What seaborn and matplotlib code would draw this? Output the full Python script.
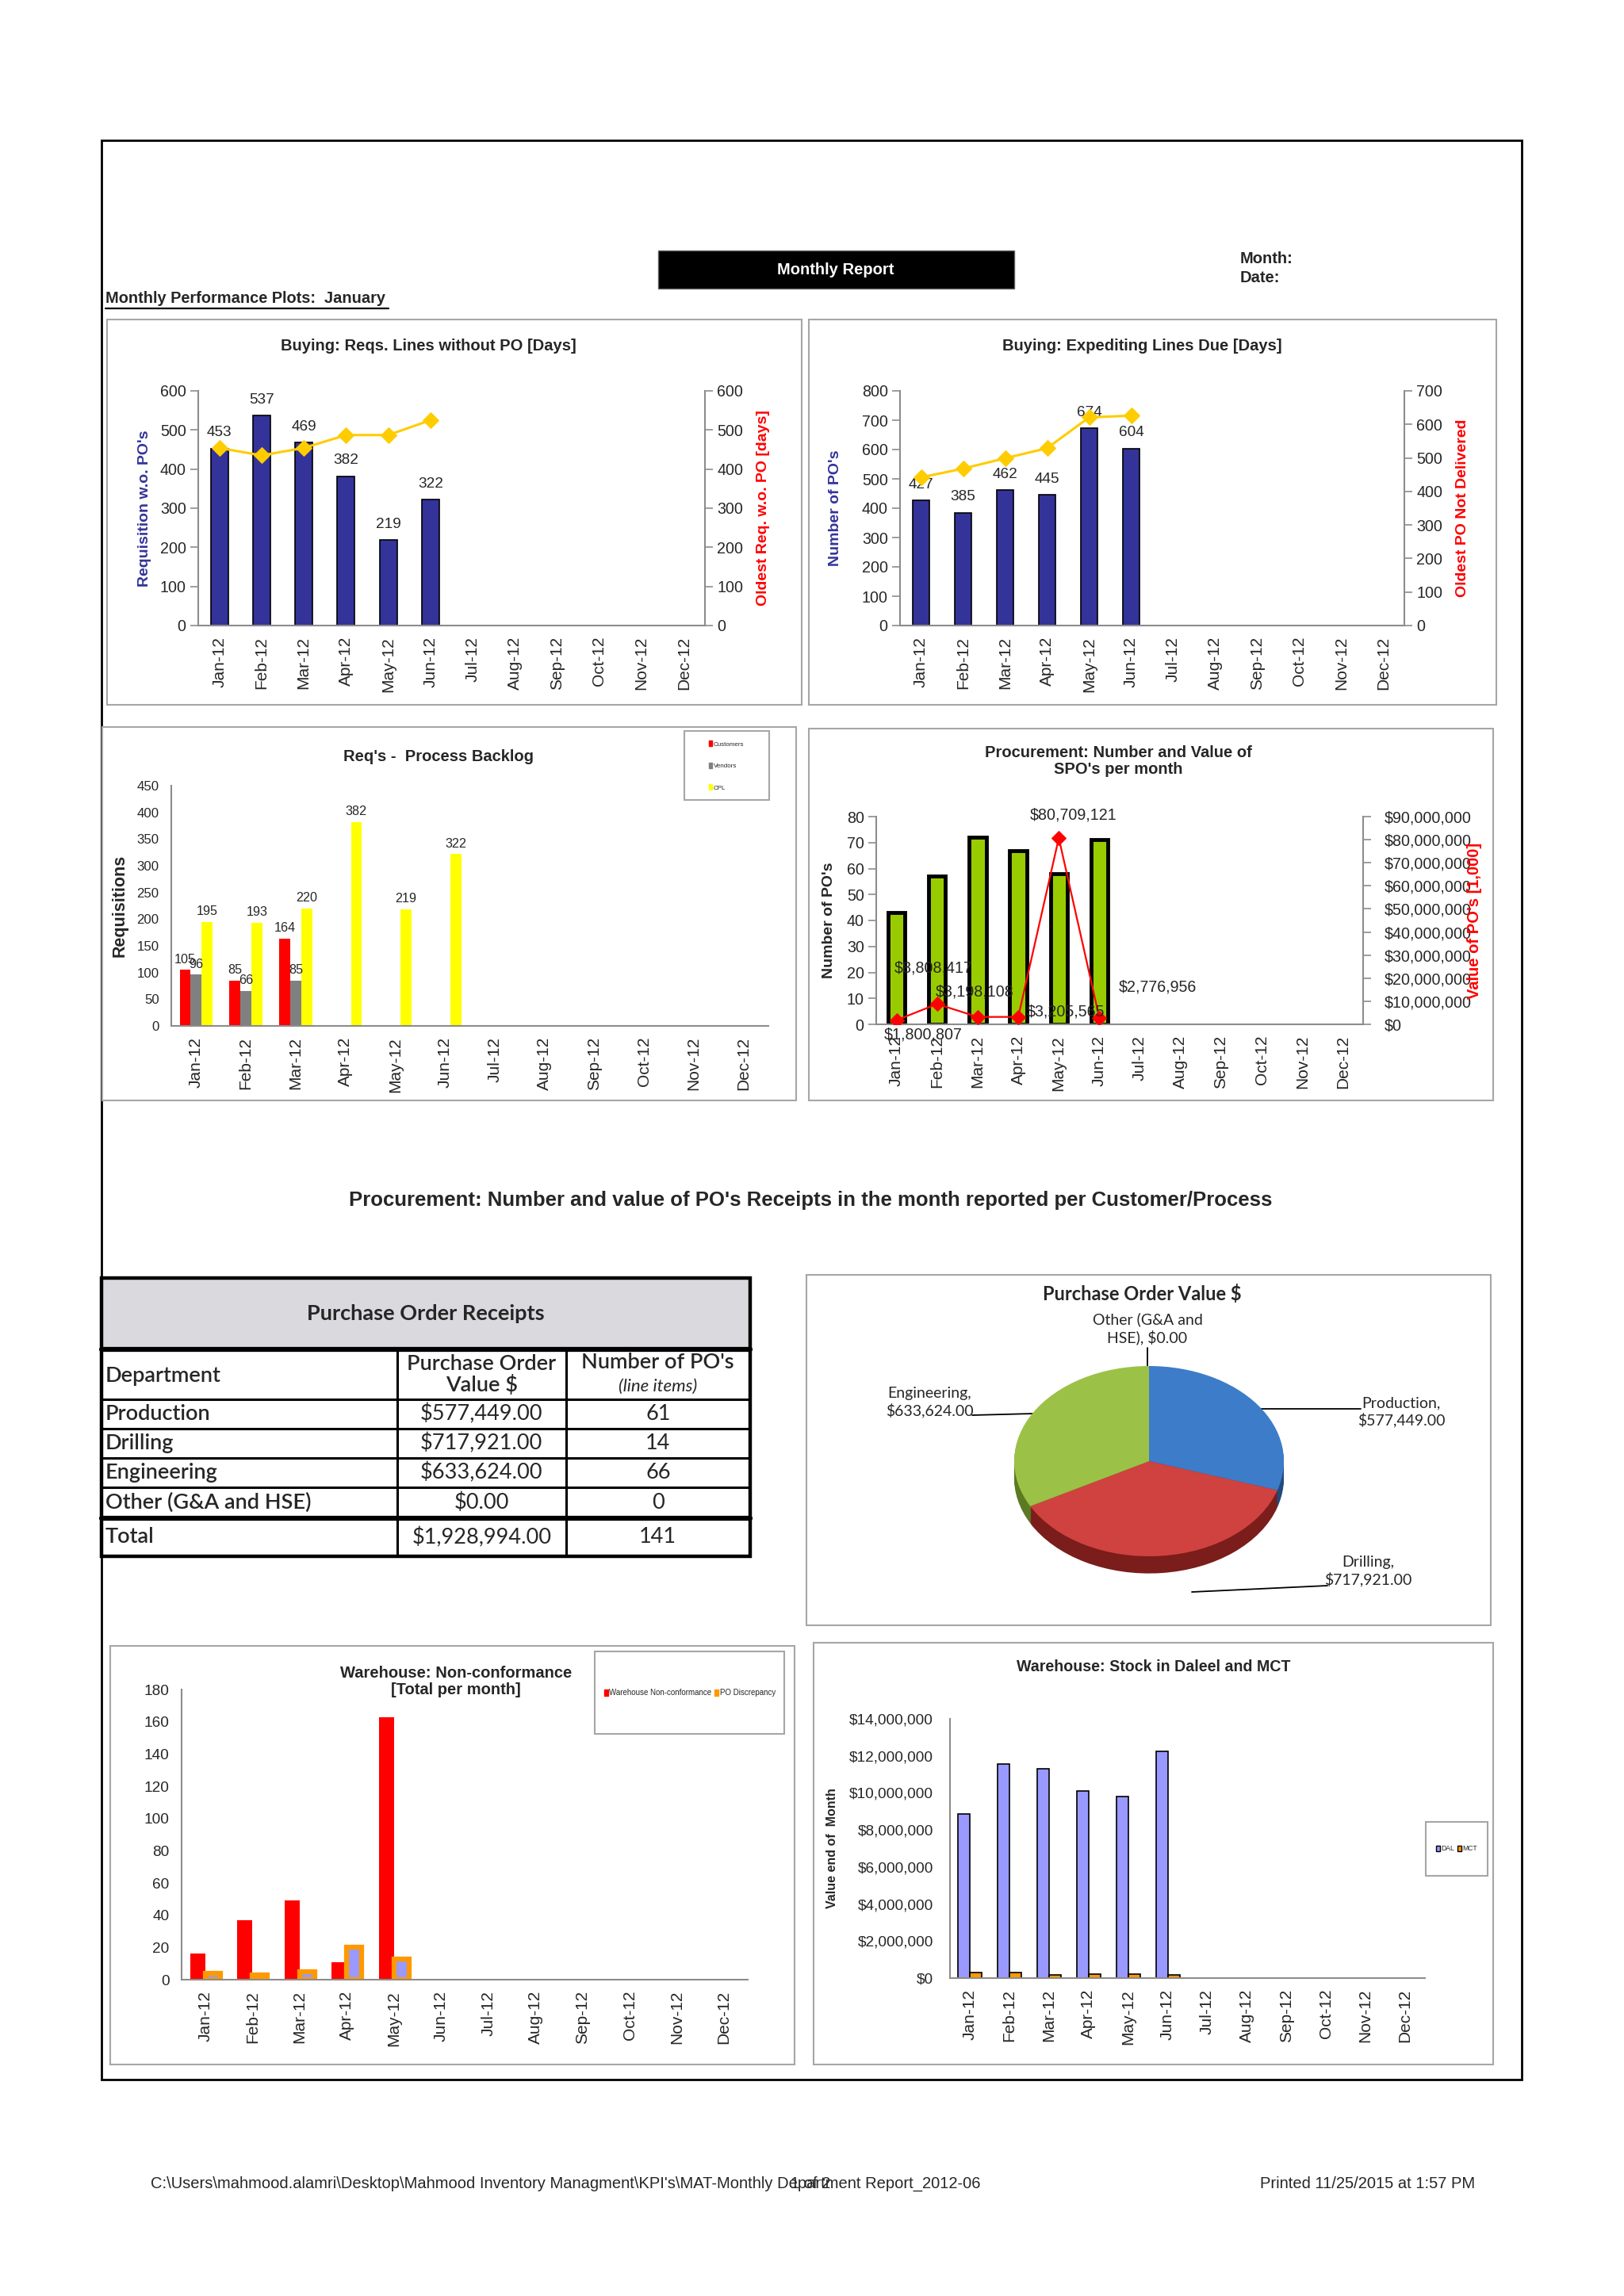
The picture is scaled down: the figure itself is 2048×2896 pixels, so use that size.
import numpy as np
import pandas as pd
import matplotlib
matplotlib.use("Agg")
import matplotlib.pyplot as plt
import matplotlib.ticker as mticker
from matplotlib import font_manager
from matplotlib.patches import Rectangle, Patch
import seaborn as sns

months = ['Jan-12', 'Feb-12', 'Mar-12', 'Apr-12', 'May-12', 'Jun-12',
          'Jul-12', 'Aug-12', 'Sep-12', 'Oct-12', 'Nov-12', 'Dec-12']

# Buying: Reqs. Lines without PO
reqs_without_po = [453, 537, 469, 382, 219, 322]
oldest_req_days = [454, 435, 454, 487, 487, 525]

# Buying: Expediting Lines Due
expediting_pos = [427, 385, 462, 445, 674, 604]
oldest_po_days = [442, 468, 499, 529, 621, 626]

# Req's - Process Backlog
backlog_customers = [105, 85, 164]
backlog_vendors = [96, 66, 85]
backlog_cpl = [195, 193, 220, 382, 219, 322]

# Procurement: SPO's per month
spo_count = [43, 57, 72, 67, 58, 71]
spo_value = [1800807, 8808417, 3198108, 3205565, 80709121, 2776956]

# Purchase Order Receipts
departments = ['Production', 'Drilling', 'Engineering', 'Other (G&A and HSE)']
po_value = [577449.00, 717921.00, 633624.00, 0.00]
po_lines = [61, 14, 66, 0]

# Warehouse: Non-conformance
wh_nonconformance = [16, 37, 49, 11, 163]
po_discrepancy = [4, 3, 5, 20, 13]

# Warehouse: Stock in Daleel and MCT
stock_dal = [8860000, 11550000, 11310000, 10120000, 9810000, 12260000]
stock_mct = [300000, 280000, 170000, 220000, 220000, 170000]

# --- Style ---
sns.set_theme(style="white")
plt.rcParams['font.family'] = ['Liberation Sans', 'DejaVu Sans']
available = {f.name for f in font_manager.fontManager.ttflist}
NARROW = 'Liberation Sans Narrow' if 'Liberation Sans Narrow' in available else 'Liberation Sans'
SQUEEZE = 1.0 if NARROW == 'Liberation Sans Narrow' else 0.83
CALIBRI = 'Lato' if 'Lato' in available else 'Liberation Sans'

NAVY = '#333399'
GOLD = '#FFCC00'
AXGRAY = '#8C8C8C'
FRAME = '#A6A6A6'

W, H = 2048, 2896


def narrow(size, **kw):
    return dict(family=NARROW, size=size * SQUEEZE, **kw)


def px(x0, y0, x1, y1):
    # rectangle en pixels (origine en haut à gauche) -> fraction de figure
    return [x0 / W, 1 - y1 / H, (x1 - x0) / W, (y1 - y0) / H]


def month_axis(ax):
    ax.set_xlim(-0.5, 11.5)
    ax.set_xticks(range(12))
    ax.set_xticklabels(months, rotation=90, fontsize=15)
    ax.set_xticks(np.arange(-0.5, 12), minor=True)
    ax.tick_params(axis='x', which='major', length=0, pad=10)
    ax.tick_params(axis='x', which='minor', length=9, width=1.2, color=AXGRAY, direction='out')
    ax.set_xlabel('')
    ax.spines['bottom'].set_color(AXGRAY)
    ax.spines['bottom'].set_linewidth(1.5)


def value_axis(ax, ticks, size, side='left', fmt=None, pad=4):
    ax.set_ylim(ticks[0], ticks[-1])
    ax.set_yticks(ticks)
    if fmt:
        ax.yaxis.set_major_formatter(mticker.StrMethodFormatter(fmt))
    ax.tick_params(axis='y', length=7, width=1.2, color=AXGRAY, direction='out',
                   labelsize=size * SQUEEZE, labelfontfamily=NARROW, pad=pad)
    for s in ['top', 'left', 'right', 'bottom']:
        if s == side:
            ax.spines[s].set_visible(True)
            ax.spines[s].set_color(AXGRAY)
            ax.spines[s].set_linewidth(1.5)
        elif s != 'bottom' or side == 'right':
            ax.spines[s].set_visible(False)


fig = plt.figure(figsize=(W / 100, H / 100), dpi=100)
page = fig.add_axes([0, 0, 1, 1], zorder=0)
page.set_xlim(0, W)
page.set_ylim(H, 0)
page.axis('off')


def frame(x0, y0, x1, y1, color=FRAME, lw=1.5):
    page.add_patch(Rectangle((x0, y0), x1 - x0, y1 - y0, fill=False, edgecolor=color, lw=lw))


# --- En-tête ---
frame(127.5, 177, 1918.6, 2623, color='black', lw=2)
page.add_patch(Rectangle((830, 316), 449, 48, facecolor='black', edgecolor='#606060', lw=1))
page.text(1054, 340, 'Monthly Report', color='white', ha='center', va='center', **narrow(17.5, weight='bold'))
page.text(1564, 327, 'Month:', ha='left', va='center', **narrow(17.5, weight='bold'))
page.text(1564, 351, 'Date:', ha='left', va='center', **narrow(17.5, weight='bold'))
page.text(133, 377, 'Monthly Performance Plots:  January', ha='left', va='center', **narrow(17.4, weight='bold'))
page.plot([133, 490], [389, 389], color='black', lw=1.6)

# --- 1. Buying: Reqs. Lines without PO ---
frame(135, 403, 1011, 889)
page.text(540, 436, 'Buying: Reqs. Lines without PO [Days]', ha='center', va='center', **narrow(17.5, weight='bold'))
ax = fig.add_axes(px(250, 493, 889, 789), facecolor='none', zorder=2)
sns.barplot(x=months[:6], y=reqs_without_po, order=months, color=NAVY, saturation=1, width=0.41,
            edgecolor='black', linewidth=1.2, errorbar=None, ax=ax)
ax.bar_label(ax.containers[0], fmt='%d', padding=8, **narrow(16.5))
value_axis(ax, list(range(0, 601, 100)), 17)
ax.set_ylabel("Requisition w.o. PO's", color=NAVY, fontsize=14, fontweight='bold', labelpad=8)
axb = ax.twinx()
axb.set_zorder(3)
sns.lineplot(x=np.arange(6), y=oldest_req_days, color=GOLD, marker='D', markersize=10,
             markeredgecolor=GOLD, linewidth=2.2, ax=axb)
value_axis(axb, list(range(0, 601, 100)), 17, side='right')
axb.set_ylabel('Oldest Req. w.o. PO [days]', color='red', fontsize=14, fontweight='bold', labelpad=12)
month_axis(ax)

# --- 2. Buying: Expediting Lines Due ---
frame(1020, 403, 1887, 889)
page.text(1440, 436, 'Buying: Expediting Lines Due [Days]', ha='center', va='center', **narrow(17.5, weight='bold'))
ax = fig.add_axes(px(1135, 493, 1771, 789), facecolor='none', zorder=2)
sns.barplot(x=months[:6], y=expediting_pos, order=months, color=NAVY, saturation=1, width=0.41,
            edgecolor='black', linewidth=1.2, errorbar=None, ax=ax)
ax.bar_label(ax.containers[0], fmt='%d', padding=8, **narrow(16.5))
value_axis(ax, list(range(0, 801, 100)), 17)
ax.set_ylabel("Number of PO's", color=NAVY, fontsize=14, fontweight='bold', labelpad=18)
axb = ax.twinx()
axb.set_zorder(3)
sns.lineplot(x=np.arange(6), y=oldest_po_days, color=GOLD, marker='D', markersize=10,
             markeredgecolor=GOLD, linewidth=2.2, ax=axb)
value_axis(axb, list(range(0, 701, 100)), 17, side='right')
axb.set_ylabel('Oldest PO Not Delivered', color='red', fontsize=14, fontweight='bold', labelpad=12)
month_axis(ax)

# --- 3. Req's - Process Backlog ---
frame(129, 917, 1004, 1388)
page.text(553, 954, "Req's -  Process Backlog", ha='center', va='center', **narrow(17.5, weight='bold'))
backlog = pd.DataFrame({
    'month': months[:3] + months[:3] + months[:6],
    'series': ['Customers'] * 3 + ['Vendors'] * 3 + ['CPL'] * 6,
    'reqs': backlog_customers + backlog_vendors + backlog_cpl,
})
backlog_colors = ['#FF0000', '#808080', '#FFFF00']
ax = fig.add_axes(px(216, 991, 969, 1294), facecolor='none', zorder=2)
sns.barplot(data=backlog, x='month', y='reqs', hue='series', order=months,
            hue_order=['Customers', 'Vendors', 'CPL'], palette=backlog_colors, saturation=1,
            width=0.66, linewidth=0, errorbar=None, legend=False, ax=ax)
for c in ax.containers:
    ax.bar_label(c, fmt='%d', padding=4, **narrow(14))
value_axis(ax, list(range(0, 451, 50)), 14.5)
ax.set_ylabel('Requisitions', fontsize=15.5, fontweight='bold', labelpad=8)
month_axis(ax)
frame(863, 922, 970, 1009)
ax.legend([Patch(color=c) for c in backlog_colors], ['Customers', 'Vendors', 'CPL'],
          loc='center', bbox_to_anchor=(916 / W, 1 - 966 / H), bbox_transform=fig.transFigure,
          frameon=False, prop={'family': NARROW, 'size': 7 * SQUEEZE}, handlelength=0.5,
          handleheight=0.9, handletextpad=0.2, labelspacing=2.4)

# --- 4. Procurement: Number and Value of SPO's ---
frame(1020, 919, 1883, 1388)
page.text(1410, 960, "Procurement: Number and Value of\nSPO's per month", ha='center', va='center',
          linespacing=1.15, **narrow(17.5, weight='bold'))
ax = fig.add_axes(px(1105, 1030, 1719, 1292), facecolor='none', zorder=2)
sns.barplot(x=months[:6], y=spo_count, order=months, color='#99CC00', saturation=1, width=0.42,
            edgecolor='black', linewidth=3.5, errorbar=None, ax=ax)
value_axis(ax, list(range(0, 81, 10)), 17)
ax.set_ylabel("Number of PO's", fontsize=14, fontweight='bold', labelpad=10)
axb = ax.twinx()
axb.set_zorder(3)
sns.lineplot(x=np.arange(6), y=spo_value, color='red', marker='D', markersize=9,
             markeredgecolor='red', linewidth=1.6, ax=axb)
value_axis(axb, list(np.arange(0, 90e6 + 1, 10e6)), 17, side='right', fmt='${x:,.0f}', pad=12)
axb.set_ylabel("Value of PO's [1,000]", color='red', fontsize=14.5, fontweight='bold', labelpad=-4)
label_offsets = [(24, -13), (-3, 33), (-3, 23), (43, 5), (13, 21), (53, 28)]
for i, (v, off) in enumerate(zip(spo_value, label_offsets)):
    axb.annotate(f'${v:,.0f}', (i, v), xytext=off, textcoords='offset points',
                 ha='center', va='center', **narrow(17))
month_axis(ax)

# --- Titre de section ---
page.text(1022, 1514, "Procurement: Number and value of PO's Receipts in the month reported per Customer/Process",
          ha='center', va='center', **narrow(22.3, weight='bold'))

# --- 5. Tableau Purchase Order Receipts ---
tx = [127.5, 501, 713.5, 946]
ty = [1612, 1702, 1765, 1802, 1839, 1876, 1915, 1963]
page.add_patch(Rectangle((tx[0], ty[0]), tx[-1] - tx[0], ty[1] - ty[0], facecolor='#DAD9DE', edgecolor='none'))
for k, y in enumerate(ty[1:-1]):
    page.plot([tx[0], tx[-1]], [y, y], color='black', lw=4.5 if k in (0, 5) else 2.2)
for x in tx[1:-1]:
    page.plot([x, x], [ty[1], ty[-1]], color='black', lw=2.2)
frame(tx[0], ty[0], tx[-1], ty[-1], color='black', lw=3.2)

cell = dict(family=CALIBRI, size=19.5)
page.text((tx[0] + tx[-1]) / 2, (ty[0] + ty[1]) / 2, 'Purchase Order Receipts', ha='center', va='center',
          weight='bold', **cell)
page.text(133, 1736, 'Department', ha='left', va='center', weight='semibold', **cell)
page.text((tx[1] + tx[2]) / 2, 1734, 'Purchase Order\nValue $', ha='center', va='center', weight='semibold',
          linespacing=1.05, **cell)
page.text((tx[2] + tx[3]) / 2, 1719, "Number of PO's", ha='center', va='center', weight='semibold', **cell)
page.text((tx[2] + tx[3]) / 2, 1749, '(line items)', ha='center', va='center', style='italic',
          family=CALIBRI, size=16)
for i, (dept, val, n) in enumerate(zip(departments, po_value, po_lines)):
    yc = (ty[2 + i] + ty[3 + i]) / 2
    page.text(133, yc, dept, ha='left', va='center', weight='semibold', **cell)
    page.text((tx[1] + tx[2]) / 2, yc, f'${val:,.2f}', ha='center', va='center', **cell)
    page.text((tx[2] + tx[3]) / 2, yc, f'{n}', ha='center', va='center', **cell)
yc = (ty[6] + ty[7]) / 2
page.text(133, yc, 'Total', ha='left', va='center', weight='semibold', **cell)
page.text((tx[1] + tx[2]) / 2, yc, f'${sum(po_value):,.2f}', ha='center', va='center', **cell)
page.text((tx[2] + tx[3]) / 2, yc, f'{sum(po_lines)}', ha='center', va='center', **cell)

# --- 6. Camembert Purchase Order Value $ ---
frame(1017, 1608, 1880, 2050)
page.text(1440, 1632, 'Purchase Order Value $', ha='center', va='center', family=CALIBRI, size=17, weight='bold')
pie_ax = fig.add_axes(px(1228, 1687, 1670, 2023), zorder=2)
top_colors = ['#3D7CC9', '#D0423F', '#9BC246', '#8064A2']
side_colors = ['#24497C', '#7A1D1B', '#5C7A24', '#4B3A63']
for depth in np.linspace(0.18, 0.0, 12)[:-1]:
    pie_ax.pie(po_value, colors=side_colors, startangle=90, counterclock=False,
               center=(0, -depth), wedgeprops={'linewidth': 0})
pie_ax.pie(po_value, colors=top_colors, startangle=90, counterclock=False, wedgeprops={'linewidth': 0})
pie_ax.set_aspect('auto')
pie_ax.set_xlim(-1.3, 1.3)
pie_ax.set_ylim(-1.5, 1.3)
pie_ax.axis('off')

pie_lbl = dict(family=CALIBRI, size=14, ha='center', va='center', linespacing=1.25)
page.text(1447, 1676, f'Other (G&A and\nHSE), ${po_value[3]:,.2f}', **pie_lbl)
page.plot([1447, 1447], [1700, 1723], color='black', lw=1.3)
page.text(1172, 1769, f'Engineering,\n${po_value[2]:,.2f}', **pie_lbl)
page.plot([1226, 1303], [1785, 1783], color='black', lw=1.3)
page.text(1767, 1781, f'Production,\n${po_value[0]:,.2f}', **pie_lbl)
page.plot([1586, 1716], [1777, 1777], color='black', lw=1.3)
page.text(1725, 1982, f'Drilling,\n${po_value[1]:,.2f}', **pie_lbl)
page.plot([1503, 1674], [2008, 2000], color='black', lw=1.3)

# --- 7. Warehouse: Non-conformance ---
frame(139, 2076, 1002, 2604)
page.text(575, 2121, 'Warehouse: Non-conformance\n[Total per month]', ha='center', va='center',
          linespacing=1.15, **narrow(17.5, weight='bold'))
nonconf = pd.DataFrame({
    'month': months[:5] * 2,
    'series': ['Warehouse Non-conformance'] * 5 + ['PO Discrepancy'] * 5,
    'count': wh_nonconformance + po_discrepancy,
})
ax = fig.add_axes(px(229, 2131, 943, 2497), facecolor='none', zorder=2)
sns.barplot(data=nonconf, x='month', y='count', hue='series', order=months,
            hue_order=['Warehouse Non-conformance', 'PO Discrepancy'], palette=['#FF0000', '#FF9900'],
            saturation=1, width=0.64, linewidth=0, errorbar=None, legend=False, ax=ax)
for bar in ax.containers[1]:
    bar.set_facecolor('#9999FF')
    bar.set_edgecolor('#FF9900')
    bar.set_linewidth(4.5)
value_axis(ax, list(range(0, 181, 20)), 16.5)
ax.set_ylabel('')
month_axis(ax)
frame(750, 2083, 989, 2187)
ax.legend([Patch(color='#FF0000'), Patch(color='#FF9900')], ['Warehouse Non-conformance', 'PO Discrepancy'],
          loc='center', bbox_to_anchor=(870 / W, 1 - 2135 / H), bbox_transform=fig.transFigure, ncol=2,
          frameon=False, prop={'family': NARROW, 'size': 8.5 * SQUEEZE}, handlelength=0.5,
          handleheight=0.9, handletextpad=0.15, columnspacing=0.4)

# --- 8. Warehouse: Stock in Daleel and MCT ---
frame(1026, 2072, 1883, 2604)
page.text(1455, 2103, 'Warehouse: Stock in Daleel and MCT', ha='center', va='center', **narrow(17, weight='bold'))
stock = pd.DataFrame({
    'month': months[:6] * 2,
    'site': ['DAL'] * 6 + ['MCT'] * 6,
    'value': stock_dal + stock_mct,
})
ax = fig.add_axes(px(1198, 2168, 1797, 2495), facecolor='none', zorder=2)
sns.barplot(data=stock, x='month', y='value', hue='site', order=months, hue_order=['DAL', 'MCT'],
            palette=['#9999FF', '#FF9900'], saturation=1, width=0.6, edgecolor='black', linewidth=1.2,
            errorbar=None, legend=False, ax=ax)
value_axis(ax, list(np.arange(0, 14e6 + 1, 2e6)), 16.5, fmt='${x:,.0f}', pad=8)
ax.set_ylabel('Value end of  Month', fontsize=11.5, fontweight='bold', labelpad=10)
month_axis(ax)
frame(1798, 2298, 1876, 2366)
ax.legend([Patch(facecolor='#9999FF', edgecolor='black'), Patch(facecolor='#FF9900', edgecolor='black')],
          ['DAL', 'MCT'], loc='center', bbox_to_anchor=(1837 / W, 1 - 2332 / H),
          bbox_transform=fig.transFigure, ncol=2, frameon=False,
          prop={'family': NARROW, 'size': 7.5 * SQUEEZE}, handlelength=0.5, handleheight=0.9,
          handletextpad=0.15, columnspacing=0.5)

# --- Pied de page ---
page.text(190, 2754, r"C:\Users\mahmood.alamri\Desktop\Mahmood Inventory Managment\KPI's\MAT-Monthly Department Report_2012-06",
          ha='left', va='center', **narrow(17.5))
page.text(1022, 2754, '1 of 2', ha='center', va='center', **narrow(17.5))
page.text(1860, 2754, 'Printed 11/25/2015 at 1:57 PM', ha='right', va='center', **narrow(17.5))

fig.savefig('out.png', dpi=100)
